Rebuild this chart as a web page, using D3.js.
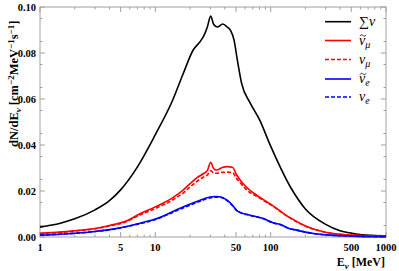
<!DOCTYPE html>
<html>
<head>
<meta charset="utf-8">
<script src="https://cdn.jsdelivr.net/npm/d3@7"></script>
<style>
  body { margin: 0; background: #fff; }
  text { font-family: "Liberation Serif", "DejaVu Serif", serif; }
</style>
</head>
<body>
<script>
// Spectra (energy in MeV, flux in cm^-2 MeV^-1 s^-1)

const sumE = [1, 1.5, 2, 3, 4, 5, 7, 10, 14, 17.5, 21.3, 24.4, 26.1, 28.2, 30.2, 32, 34.5, 38.4, 42, 45, 48.1, 51.4, 56, 66, 80, 100, 150, 200, 300, 400, 550, 750, 1000];
const sumV = [0.0043, 0.0060, 0.0079, 0.0118, 0.0158, 0.0205, 0.0305, 0.0445, 0.059, 0.0712, 0.0813, 0.0849, 0.0871, 0.0912, 0.0961, 0.0925, 0.0913, 0.0926, 0.0913, 0.0897, 0.0857, 0.077, 0.0668, 0.0585, 0.0510, 0.0395, 0.0213, 0.0122, 0.0055, 0.0027, 0.0013, 0.0007, 0.0004];

const muE = [1, 1.5, 2, 3, 4, 5.5, 7.36, 10, 14.3, 17.5, 20, 23, 26, 28.3, 30.2, 32, 34, 38, 42, 47, 50, 54, 62, 81, 105, 147, 205, 286, 400, 557, 1000];
const antiMuV = [0.0016, 0.0021, 0.0027, 0.0037, 0.0050, 0.0068, 0.0101, 0.0131, 0.0172, 0.0205, 0.0232, 0.0258, 0.0275, 0.0290, 0.0325, 0.0298, 0.0291, 0.0302, 0.0306, 0.0302, 0.0275, 0.0250, 0.0215, 0.0172, 0.0135, 0.0084, 0.0046, 0.0023, 0.0012, 0.0007, 0.0002];
const muV = [0.0015, 0.0020, 0.0026, 0.0036, 0.0048, 0.0065, 0.0096, 0.0124, 0.0163, 0.0192, 0.0218, 0.0242, 0.0260, 0.0270, 0.0288, 0.0279, 0.0277, 0.0281, 0.0282, 0.0279, 0.0258, 0.0238, 0.0205, 0.0168, 0.0133, 0.0083, 0.0045, 0.0023, 0.0012, 0.0007, 0.0002];

const eE = [1, 1.5, 2, 3, 4, 6, 7.36, 10, 16.4, 22.9, 29.8, 33, 36.3, 41.6, 47.2, 51, 54.3, 65, 86.5, 105, 120, 147, 168, 205, 235, 330, 500, 1000];
const antiEV = [0.0008, 0.0012, 0.0016, 0.0024, 0.0032, 0.0049, 0.0060, 0.0078, 0.0125, 0.0154, 0.0174, 0.0176, 0.0175, 0.0161, 0.0135, 0.0115, 0.0107, 0.0096, 0.0080, 0.0062, 0.0055, 0.0036, 0.0030, 0.0020, 0.0015, 0.0008, 0.0004, 0.0001];
const eV = [0.0008, 0.0012, 0.0016, 0.0024, 0.0031, 0.0048, 0.0058, 0.0076, 0.0121, 0.0150, 0.0170, 0.0173, 0.0173, 0.0159, 0.0134, 0.0114, 0.0106, 0.0095, 0.0079, 0.0061, 0.0054, 0.0036, 0.0030, 0.0020, 0.0015, 0.0008, 0.0004, 0.0001];

const xTicks = [1, 5, 10, 50, 100, 500, 1000];
const yTicks = [0, 0.02, 0.04, 0.06, 0.08, 0.10];

// Layout
const margin = { top: 7, right: 13, bottom: 34, left: 40 };
const width = 399 - margin.left - margin.right;
const height = 271 - margin.top - margin.bottom;
const frameColor = "#a0a0a0";

const svg = d3.select("body").append("svg")
  .attr("width", 399)
  .attr("height", 271);

const g = svg.append("g")
  .attr("transform", `translate(${margin.left}, ${margin.top})`);

const x = d3.scaleLog().domain([1, 1000]).range([0, width]);
const y = d3.scaleLinear().domain([0, 0.1]).range([height, 0]);

// Minor ticks
const xMinor = [];
[1, 10, 100].forEach(dec => {
  for (let k = 2; k <= 9; k++) if (k !== 5) xMinor.push(dec * k);
});
const yMinor = d3.range(0.005, 0.1, 0.01);

// Ticks on all four sides, pointing inward
function drawTicks() {
  const t = g.append("g").attr("stroke", frameColor).attr("stroke-width", 1);
  xTicks.forEach(v => {
    t.append("line").attr("x1", x(v)).attr("x2", x(v)).attr("y1", height).attr("y2", height - 5);
    t.append("line").attr("x1", x(v)).attr("x2", x(v)).attr("y1", 0).attr("y2", 5);
  });
  xMinor.forEach(v => {
    t.append("line").attr("x1", x(v)).attr("x2", x(v)).attr("y1", height).attr("y2", height - 2.5);
    t.append("line").attr("x1", x(v)).attr("x2", x(v)).attr("y1", 0).attr("y2", 2.5);
  });
  yTicks.forEach(v => {
    t.append("line").attr("x1", 0).attr("x2", 5).attr("y1", y(v)).attr("y2", y(v));
    t.append("line").attr("x1", width).attr("x2", width - 5).attr("y1", y(v)).attr("y2", y(v));
  });
  yMinor.forEach(v => {
    t.append("line").attr("x1", 0).attr("x2", 2.5).attr("y1", y(v)).attr("y2", y(v));
    t.append("line").attr("x1", width).attr("x2", width - 2.5).attr("y1", y(v)).attr("y2", y(v));
  });
}
drawTicks();

// Frame
g.append("rect")
  .attr("width", width).attr("height", height)
  .attr("fill", "none").attr("stroke", frameColor).attr("stroke-width", 1);

// Tick labels
g.selectAll(".xl").data(xTicks).enter().append("text")
  .attr("x", d => x(d)).attr("y", height + 14)
  .attr("text-anchor", "middle")
  .attr("font-size", 10.5).attr("font-weight", "bold")
  .text(d => d);

g.selectAll(".yl").data(yTicks).enter().append("text")
  .attr("x", -4).attr("y", d => y(d) + 3.5)
  .attr("text-anchor", "end")
  .attr("font-size", 10.5).attr("font-weight", "bold")
  .text(d => d3.format(".2f")(d));

// Axis titles
const xt = svg.append("text")
  .attr("x", 385).attr("y", 266)
  .attr("text-anchor", "end")
  .attr("font-size", 12).attr("font-weight", "bold");
xt.append("tspan").text("E");
xt.append("tspan").attr("dy", 3).attr("font-size", 9).attr("font-style", "italic").text("ν");
xt.append("tspan").attr("dy", -3).text(" [MeV]");

const yt = svg.append("text")
  .attr("transform", "translate(18, 147) rotate(-90)")
  .attr("font-size", 12.5).attr("font-weight", "bold");
yt.append("tspan").text("dN/dE");
yt.append("tspan").attr("dy", 3).attr("font-size", 9).attr("font-style", "italic").text("ν");
yt.append("tspan").attr("dy", -3).text(" [cm");
yt.append("tspan").attr("dy", -4).attr("font-size", 9).text("−2");
yt.append("tspan").attr("dy", 4).text("MeV");
yt.append("tspan").attr("dy", -4).attr("font-size", 9).text("−1");
yt.append("tspan").attr("dy", 4).text("s");
yt.append("tspan").attr("dy", -4).attr("font-size", 9).text("−1");
yt.append("tspan").attr("dy", 4).text("]");

// Curves
const line = d3.line()
  .x(d => x(d[0]))
  .y(d => y(d[1]))
  .curve(d3.curveMonotoneX);

const series = [
  { name: "sum", e: sumE, v: sumV, color: "#000000", dash: null },
  { name: "antiMu", e: muE, v: antiMuV, color: "#ff0000", dash: null },
  { name: "mu", e: muE, v: muV, color: "#ff0000", dash: "4,2" },
  { name: "antiE", e: eE, v: antiEV, color: "#0000ff", dash: null },
  { name: "e", e: eE, v: eV, color: "#0000ff", dash: "4,2" }
];

series.forEach(s => {
  g.append("path")
    .datum(s.e.map((e, i) => [e, s.v[i]]))
    .attr("d", line)
    .attr("fill", "none")
    .attr("stroke", s.color)
    .attr("stroke-width", 1.6)
    .attr("stroke-dasharray", s.dash);
});

// Legend
const legendRows = [21.7, 40.5, 59.5, 79, 97];
const legend = svg.append("g");
series.forEach((s, i) => {
  legend.append("line")
    .attr("x1", 325).attr("x2", 351)
    .attr("y1", legendRows[i]).attr("y2", legendRows[i])
    .attr("stroke", s.color).attr("stroke-width", 1.6)
    .attr("stroke-dasharray", s.dash);
});

// the tilde over the antineutrino nu is drawn as a small wave, not a glyph
function tildeMark(cx, cy) {
  const p = d3.path();
  p.moveTo(cx - 3, cy + 0.6);
  p.bezierCurveTo(cx - 1.5, cy - 1.8, cx - 0.5, cy - 0.2, cx, cy);
  p.bezierCurveTo(cx + 0.5, cy + 0.2, cx + 1.5, cy + 1.8, cx + 3, cy - 0.6);
  legend.append("path").attr("d", p.toString())
    .attr("fill", "none").attr("stroke", "#000").attr("stroke-width", 0.9);
}

function legendText(i, sym, sub, tilde) {
  const t = legend.append("text")
    .attr("x", 359).attr("y", legendRows[i] + 4)
    .attr("font-size", 14).attr("font-style", "italic");
  if (sym === "sum") {
    t.append("tspan").attr("font-style", "normal").text("∑");
    t.append("tspan").text("ν");
    return;
  }
  t.append("tspan").text("ν");
  t.append("tspan").attr("dy", 3).attr("font-size", 10).text(sub);
  if (tilde) tildeMark(363, legendRows[i] - 5);
}
legendText(0, "sum");
legendText(1, "nu", "μ", true);
legendText(2, "nu", "μ", false);
legendText(3, "nu", "e", true);
legendText(4, "nu", "e", false);
</script>
</body>
</html>
